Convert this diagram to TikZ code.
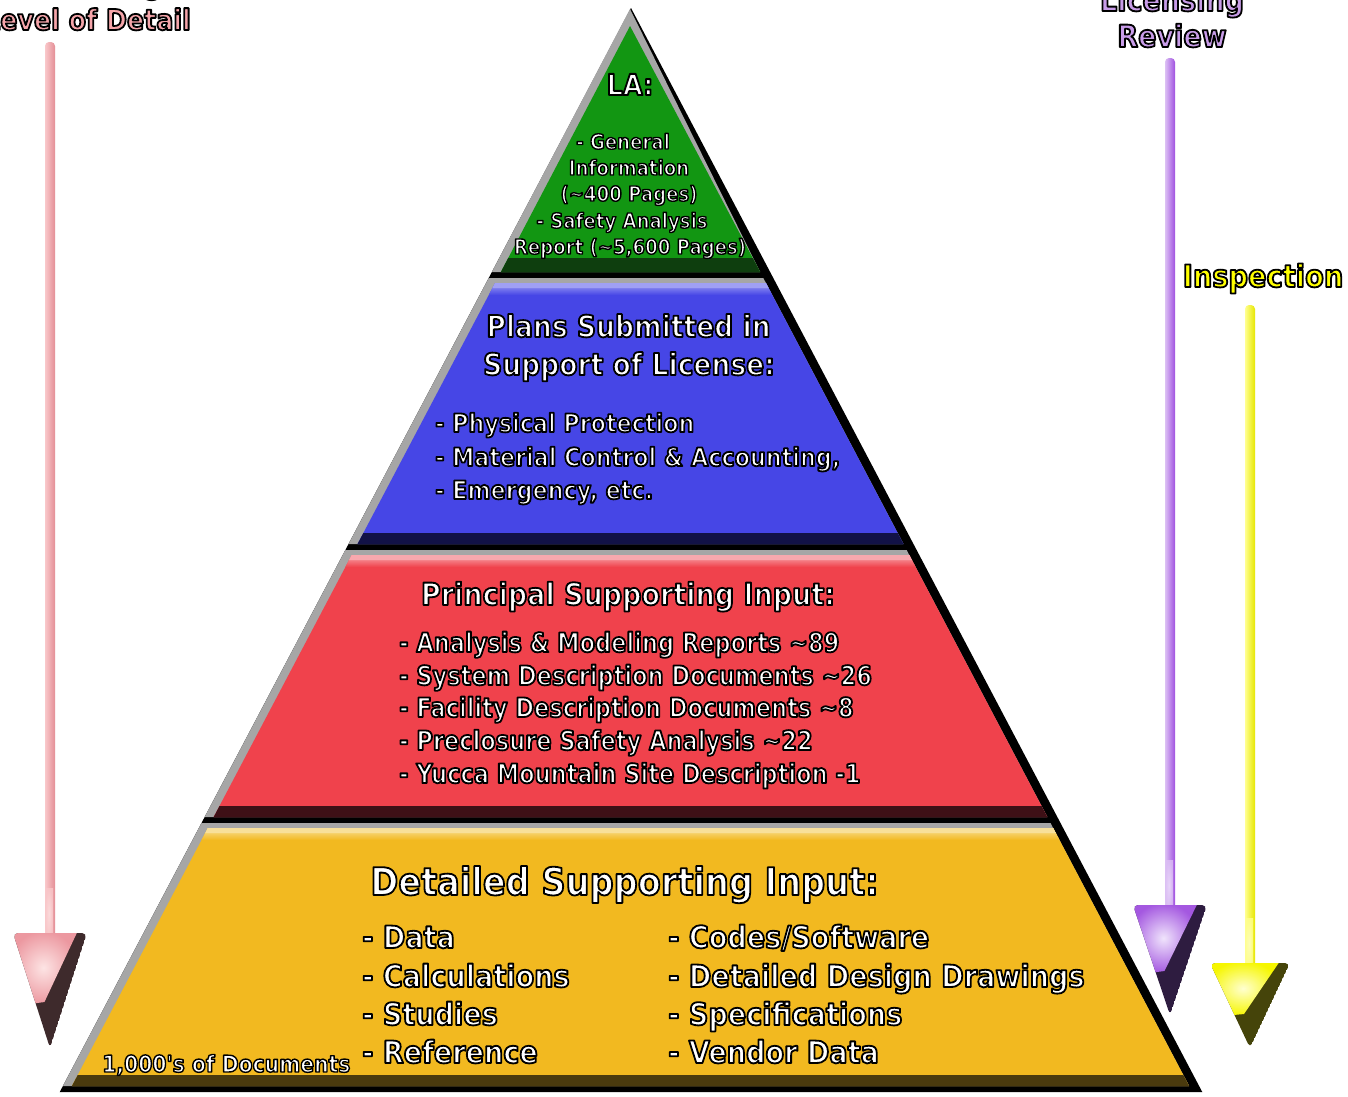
\documentclass[tikz,border=0pt]{standalone}
\usepackage{fontspec}
\newfontfamily\fw{DejaVu Sans Bold}[FakeStretch=0.88]
\newfontfamily\fn{DejaVu Sans Bold}[FakeStretch=0.84]
\usetikzlibrary{calc}
\definecolor{edgegray}{HTML}{A6A6A6}
\definecolor{gmain}{HTML}{129612}
\definecolor{gdark}{HTML}{0E3E0E}
\definecolor{bmain}{HTML}{4646E6}
\definecolor{blight}{HTML}{A0A0F4}
\definecolor{bdark}{HTML}{121246}
\definecolor{rmain}{HTML}{F0424C}
\definecolor{rlight}{HTML}{F8A8AE}
\definecolor{rdark}{HTML}{3E1016}
\definecolor{ymain}{HTML}{F2B920}
\definecolor{ylight}{HTML}{F8E09A}
\definecolor{ydark}{HTML}{4A3A0E}
\definecolor{pinklab}{HTML}{F5A5AA}
\definecolor{purplab}{HTML}{C89CE8}
\definecolor{yellab}{HTML}{FFFF00}
% arrow colours: shaft light/dark, head light/mid/dark
\definecolor{pinkSA}{HTML}{F9C8CA}\definecolor{pinkSB}{HTML}{E48E96}
\definecolor{pinkHA}{HTML}{FDE4E4}\definecolor{pinkHB}{HTML}{EC98A0}\definecolor{pinkHC}{HTML}{3E2A2C}
\definecolor{purSA}{HTML}{DCC0F4}\definecolor{purSB}{HTML}{A050E0}
\definecolor{purHA}{HTML}{F0E4FC}\definecolor{purHB}{HTML}{A458E0}\definecolor{purHC}{HTML}{2E1C40}
\definecolor{yelSA}{HTML}{FFFF90}\definecolor{yelSB}{HTML}{E6E600}
\definecolor{yelHA}{HTML}{FFFFD0}\definecolor{yelHB}{HTML}{F6F600}\definecolor{yelHC}{HTML}{45440A}
\newcommand\olon[2]{\color{#1}\special{pdf:literal direct 0 G 1 j #2 w 2 Tr}}
\newcommand\oloff{\special{pdf:literal direct 0 Tr}}
\newcommand\pyrtier[5]{%
 \fill[black] ({pl(#1)},#1) -- ({pr(#1)},#1) -- ({pr(#2)},#2) -- ({pl(#2)},#2) -- cycle;
 \fill[edgegray] ({pl(#1)},#1) -- ({pr(#1)-10},#1) -- ({pr(#2-6)-10},#2-6) -- ({pl(#2-6)},#2-6) -- cycle;
 \fill[#3] ({pl(#1+5)+9},#1+5) -- ({pr(#1+5)-10},#1+5) -- ({pr(#2-6)-10},#2-6) -- ({pl(#2-6)+9},#2-6) -- cycle;
 \shade[top color=#4, bottom color=#3] ({pl(#1+5)+9},#1+5) -- ({pr(#1+5)-10},#1+5) -- ({pr(#1+17)-10},#1+17) -- ({pl(#1+17)+9},#1+17) -- cycle;
 \fill[#4] ({pl(#1+5)+9},#1+5) -- ({pr(#1+5)-10},#1+5) -- ({pr(#1+10)-10},#1+10) -- ({pl(#1+10)+9},#1+10) -- cycle;
 \fill[#5] ({pl(#2-17)+9},#2-17) -- ({pr(#2-17)-10},#2-17) -- ({pr(#2-6)-10},#2-6) -- ({pl(#2-6)+9},#2-6) -- cycle;
}
% arrow: x, shaft top, head top, half width, tip, colour prefix
\newcommand\glossyarrow[6]{%
 \shade[left color=#6SA, right color=#6SB, rounded corners=4pt] ({#1-5},#2) rectangle ({#1+5},{#3+6});
 \shade[inner color=#6HA, outer color=#6SA, opacity=0.8] ({#1-5},{#3-45}) rectangle ({#1+3},{#3+6});
 \begin{scope}
  \clip[rounded corners=5pt] ({#1-#4},#3) -- ({#1+#4},#3) -- (#1,#5) -- cycle;
  \fill[#6HC] ({#1-#4},#3) -- ({#1+#4},#3) -- (#1,#5) -- cycle;
  \shade[inner color=#6HA, outer color=#6HB]
    ({#1-#4-4},{#3-2}) -- ({#1+0.75*#4},{#3-2}) -- ({#1-0.15*#4},{#3+0.6*(#5-#3)}) -- ({#1-0.6*#4},{#3+0.62*(#5-#3)}) -- cycle;
 \end{scope}
}
\tikzset{
 ol/.style={inner sep=0pt, execute at begin node={\olon{#1}{1.8}}, execute at end node={\oloff}},
 ol/.default=white,
 ols/.style={inner sep=0pt, execute at begin node={\olon{white}{1.4}}, execute at end node={\oloff}},
 fs/.style={font=\fw\fontsize{#1}{#1}\selectfont},
 fsn/.style={font=\fn\fontsize{#1}{#1}\selectfont},
}
\begin{document}
\begin{tikzpicture}[x=1pt,y=-1pt,
  declare function={pl(\t)=631-0.527*(\t-8); pr(\t)=631+0.527*(\t-8);}]
\useasboundingbox (0,0) rectangle (1348,1096);
\fill[white] (0,0) rectangle (1348,1096);

% ---- green apex tier
\fill[black] (631,8) -- ({pr(278)},278) -- ({pl(278)},278) -- cycle;
\fill[edgegray] (630,9) -- ({pr(272)-10},272) -- ({pl(272)},272) -- cycle;
\fill[gmain] (630,26) -- ({pr(272)-10},272) -- ({pl(272)+9},272) -- cycle;
\fill[gdark] ({pl(258)+9},258) -- ({pr(258)-10},258) -- ({pr(272)-10},272) -- ({pl(272)+9},272) -- cycle;
% ---- other tiers
\pyrtier{278}{550}{bmain}{blight}{bdark}
\pyrtier{550}{823}{rmain}{rlight}{rdark}
\pyrtier{823}{1092}{ymain}{ylight}{ydark}

% ---- arrows
\glossyarrow{50}{42}{933}{37}{1048}{pink}
\glossyarrow{1170}{58}{905}{37}{1015}{pur}
\glossyarrow{1250}{305}{963}{40}{1048}{yel}

% ---- side labels
\node[ol=pinklab, fs=28.8, anchor=base east] (lod) at (191,30) {Level of Detail};
\node[ol=pinklab, fs=28.8, anchor=base] (incr) at ($(lod.base)+(0,-36)$) {Increasing};
\node[ol=purplab, fs=30.7, anchor=base] (rev) at (1172,47) {Review};
\node[ol=purplab, fs=30.7, anchor=base] (lic) at ($(rev.base)+(0,-36)$) {Licensing};
\node[ol=yellab, fs=31, anchor=base] (insp) at (1263,287) {Inspection};

% ---- green text
\node[ol, fs=29, anchor=base] (la) at (630,95) {LA:};
\node[ols, fs=20.6, anchor=base] (g1) at (623,149) {- General};
\node[ols, fs=20.6, anchor=base] (g2) at (629,175) {Information};
\node[ols, fs=20.6, anchor=base] (g3) at (629,201) {(\textasciitilde400 Pages)};
\node[ols, fs=20.6, anchor=base] (g4) at (622,228) {- Safety Analysis};
\node[ols, fs=20.6, anchor=base] (g5) at (630,254) {Report (\textasciitilde5,600 Pages)};

% ---- blue text
\node[ol, fs=30.2, anchor=base] (b1) at (628.5,337) {Plans Submitted in};
\node[ol, fs=30.2, anchor=base] (b2) at (629,375) {Support of License:};
\node[ol, fs=25.3, anchor=base west] (b3) at (435,432) {- Physical Protection};
\node[ol, fs=25.3, anchor=base west] (b4) at (435,466) {- Material Control \& Accounting,};
\node[ol, fs=25.3, anchor=base west] (b5) at (435,499) {- Emergency, etc.};

% ---- red text
\node[ol, fs=30.7, anchor=base] (r0) at (628,605) {Principal Supporting Input:};
\node[ol, fsn=26.8, anchor=base west] (r1) at (399,652) {- Analysis \& Modeling Reports \textasciitilde89};
\node[ol, fsn=26.8, anchor=base west] (r2) at (399,685) {- System Description Documents \textasciitilde26};
\node[ol, fsn=26.8, anchor=base west] (r3) at (399,717) {- Facility Description Documents \textasciitilde8};
\node[ol, fsn=26.8, anchor=base west] (r4) at (399,750) {- Preclosure Safety Analysis \textasciitilde22};
\node[ol, fsn=26.8, anchor=base west] (r5) at (399,783) {- Yucca Mountain Site Description -1};

% ---- yellow text
\node[ol, fs=38.2, anchor=base] (y0) at (624.5,895) {Detailed Supporting Input:};
\node[ol, fs=30.8, anchor=base west] (y1) at (362,948) {- Data};
\node[ol, fs=30.8, anchor=base west] (y2) at (362,987) {- Calculations};
\node[ol, fs=30.8, anchor=base west] (y3) at (362,1025) {- Studies};
\node[ol, fs=30.8, anchor=base west] (y4) at (362,1063) {- Reference};
\node[ol, fs=30.8, anchor=base west] (y5) at (668,948) {- Codes/Software};
\node[ol, fs=30.8, anchor=base west] (y6) at (668,987) {- Detailed Design Drawings};
\node[ol, fs=30.8, anchor=base west] (y7) at (668,1025) {- Specifications};
\node[ol, fs=30.8, anchor=base west] (y8) at (668,1063) {- Vendor Data};
\node[ols, fs=23.1, anchor=base west] (docs) at (102,1072) {1,000's of Documents};
\end{tikzpicture}
\end{document}
